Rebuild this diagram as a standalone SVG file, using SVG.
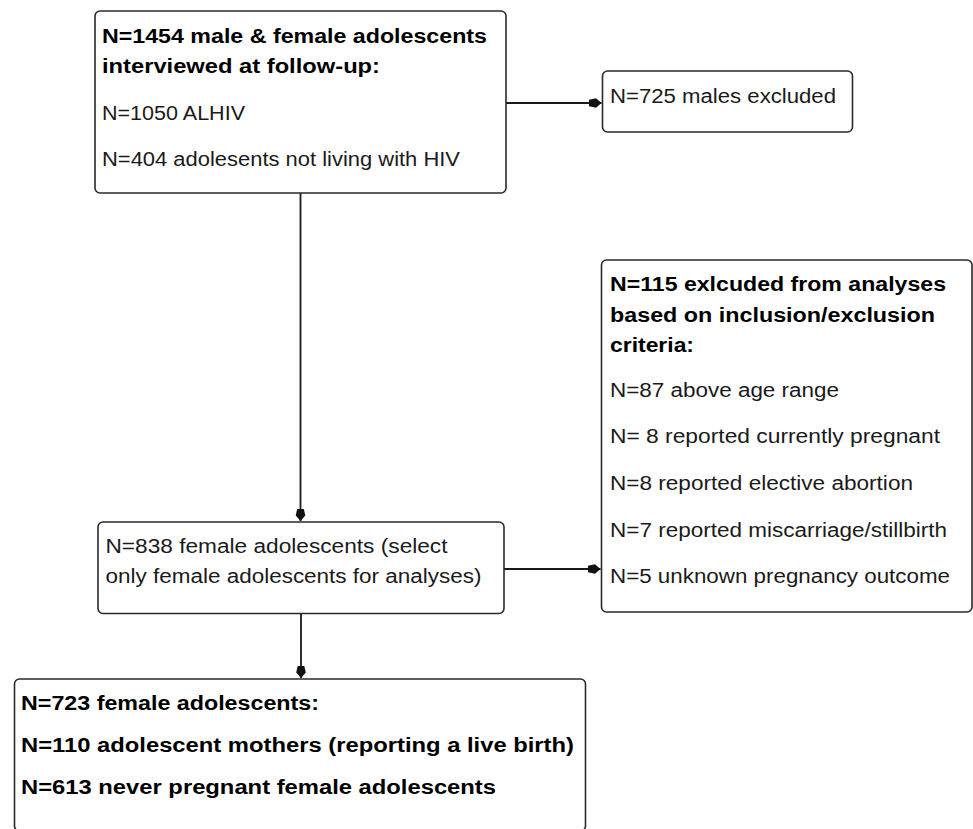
<svg xmlns="http://www.w3.org/2000/svg" width="973" height="829" viewBox="0 0 973 829">
<style>
.box{fill:#fff;stroke:#2a2a2a;stroke-width:1.6}
.t{font-family:"Liberation Sans",Arial,sans-serif;font-size:19.5px;fill:#1a1a1a}
.b{font-family:"Liberation Sans",Arial,sans-serif;font-size:20px;font-weight:bold;fill:#000}
.c{stroke:#1a1a1a;stroke-width:1.8;fill:none}
</style>
<defs>
<marker id="ah" markerUnits="userSpaceOnUse" markerWidth="14" markerHeight="12" viewBox="0 -6 14 12" refX="12.5" refY="0" orient="auto">
<path d="M0,-3.2 L7,-4.8 L12.5,0 L7,4.8 L0,3.2 Z" fill="#111"/>
</marker>
</defs>
<rect width="973" height="829" fill="#fff"/>
<g id="connectors">
<path class="c" d="M506,103 L601.5,103" marker-end="url(#ah)"/>
<path class="c" d="M300.5,193 L300.5,521" marker-end="url(#ah)"/>
<path class="c" d="M504,569 L600.5,569" marker-end="url(#ah)"/>
<path class="c" d="M301,613.5 L301,678" marker-end="url(#ah)"/>
</g>
<g id="n1">
<rect class="box" x="95" y="11" width="411" height="182" rx="5"/>
<text class="b" x="102" y="42.5" textLength="385" lengthAdjust="spacingAndGlyphs">N=1454 male &amp; female adolescents</text>
<text class="b" x="102" y="72.7" textLength="278" lengthAdjust="spacingAndGlyphs">interviewed at follow-up:</text>
<text class="t" x="102" y="120" textLength="143" lengthAdjust="spacingAndGlyphs">N=1050 ALHIV</text>
<text class="t" x="102" y="166" textLength="358" lengthAdjust="spacingAndGlyphs">N=404 adolesents not living with HIV</text>
</g>
<g id="n2">
<rect class="box" x="602.5" y="71" width="250" height="61" rx="5"/>
<text class="t" x="610" y="103.3" textLength="226" lengthAdjust="spacingAndGlyphs">N=725 males excluded</text>
</g>
<g id="n3">
<rect class="box" x="601.5" y="260" width="370.5" height="352" rx="5"/>
<text class="b" x="610" y="290.7" textLength="336" lengthAdjust="spacingAndGlyphs">N=115 exlcuded from analyses</text>
<text class="b" x="610" y="321.7" textLength="325" lengthAdjust="spacingAndGlyphs">based on inclusion/exclusion</text>
<text class="b" x="610" y="351.7" textLength="84" lengthAdjust="spacingAndGlyphs">criteria:</text>
<text class="t" x="610" y="396.7" textLength="229" lengthAdjust="spacingAndGlyphs">N=87 above age range</text>
<text class="t" x="610" y="443.3" textLength="330" lengthAdjust="spacingAndGlyphs">N= 8 reported currently pregnant</text>
<text class="t" x="610" y="490" textLength="303" lengthAdjust="spacingAndGlyphs">N=8 reported elective abortion</text>
<text class="t" x="610" y="536.7" textLength="337" lengthAdjust="spacingAndGlyphs">N=7 reported miscarriage/stillbirth</text>
<text class="t" x="610" y="583.3" textLength="340" lengthAdjust="spacingAndGlyphs">N=5 unknown pregnancy outcome</text>
</g>
<g id="n4">
<rect class="box" x="98" y="522" width="406" height="91.5" rx="5"/>
<text class="t" x="105.5" y="553.3" textLength="342" lengthAdjust="spacingAndGlyphs">N=838 female adolescents (select</text>
<text class="t" x="105.5" y="583" textLength="376" lengthAdjust="spacingAndGlyphs">only female adolescents for analyses)</text>
</g>
<g id="n5">
<rect class="box" x="14.5" y="679" width="571" height="152" rx="5"/>
<text class="b" x="21" y="709.5" textLength="298" lengthAdjust="spacingAndGlyphs">N=723 female adolescents:</text>
<text class="b" x="21" y="752" textLength="553" lengthAdjust="spacingAndGlyphs">N=110 adolescent mothers (reporting a live birth)</text>
<text class="b" x="21" y="794" textLength="475" lengthAdjust="spacingAndGlyphs">N=613 never pregnant female adolescents</text>
</g>
</svg>
